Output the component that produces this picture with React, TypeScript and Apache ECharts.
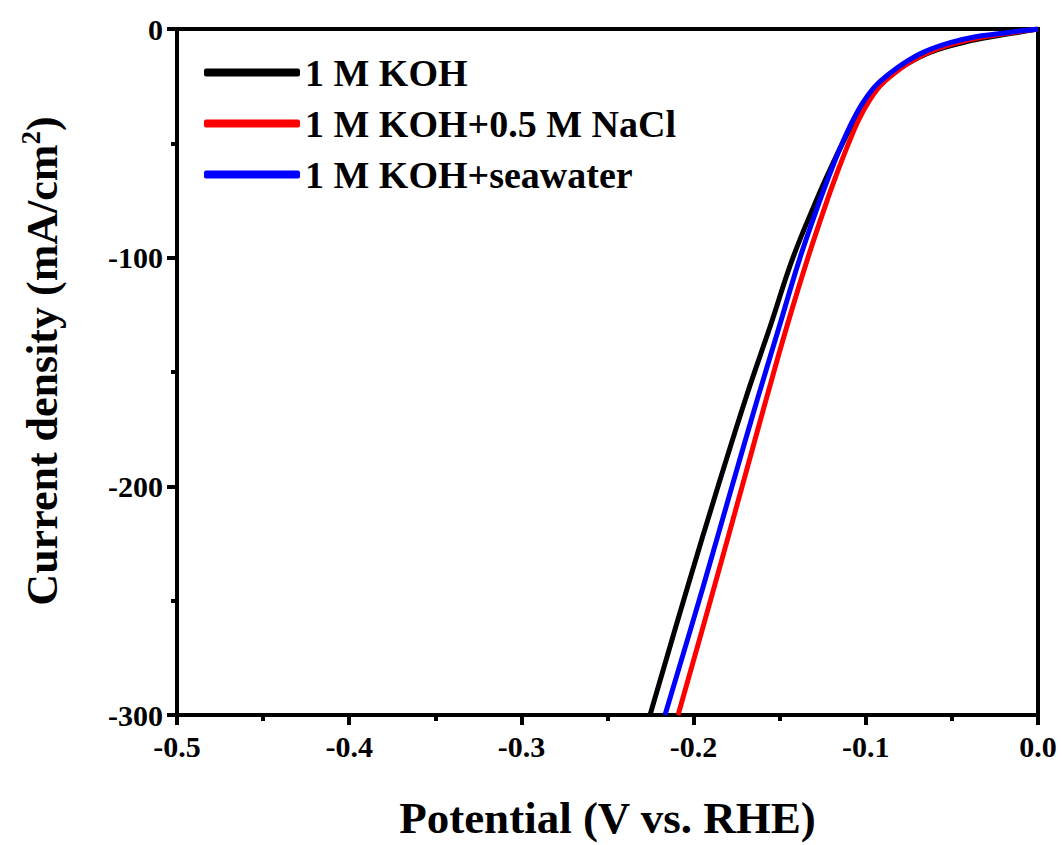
import React, { useEffect, useRef } from "react";
import * as echarts from "echarts";

// Current density levels (mA/cm2) at which potentials were read
const currentLevels = [0, -1, -2, -3.5, -6, -10, -15, -20, -25, -32, -40, -50, -61, -74, -100, -130, -161, -200, -244, -300];

// Potentials (V vs. RHE) for each electrolyte
const potentialKOH = [0, -0.008, -0.016, -0.028, -0.044, -0.062, -0.0755, -0.085, -0.0925, -0.1003, -0.1068, -0.1135, -0.1205, -0.1282, -0.1423, -0.1555, -0.1695, -0.1858, -0.2035, -0.2253];
const potentialNaCl = [0, -0.01, -0.019, -0.032, -0.047, -0.063, -0.0755, -0.0845, -0.0918, -0.0985, -0.1043, -0.11, -0.1157, -0.122, -0.1336, -0.1458, -0.1575, -0.1718, -0.188, -0.209];
const potentialSeawater = [0, -0.012, -0.022, -0.037, -0.051, -0.066, -0.078, -0.087, -0.0945, -0.1015, -0.1075, -0.1137, -0.1197, -0.1262, -0.1382, -0.1502, -0.1626, -0.1777, -0.1945, -0.2166];

const seriesNames = ["1 M KOH", "1 M KOH+0.5 M NaCl", "1 M KOH+seawater"];
const seriesColors = ["#000000", "#ff0000", "#0000ff"];

const FONT = "'Liberation Serif', 'Times New Roman', serif";

export default function App() {
  const ref = useRef<HTMLDivElement>(null);

  useEffect(() => {
    if (!ref.current) return;
    const chart = echarts.init(ref.current, undefined, { renderer: "svg" });
    const potentials = [potentialKOH, potentialNaCl, potentialSeawater];
    const series = potentials.map((arr, i) => ({
      name: seriesNames[i],
      type: "line",
      data: arr.map((v, k) => [v, currentLevels[k]]),
      showSymbol: false,
      symbol: "none",
      smooth: 0.4,
      lineStyle: { width: 5, color: seriesColors[i] },
      itemStyle: { color: seriesColors[i] },
      z: 2 + i,
    }));

    const tickStyle = { width: 4, color: "#000" };

    chart.setOption({
      animation: false,
      backgroundColor: "#ffffff",
      grid: {
        left: 177,
        right: 24,
        top: 29,
        bottom: 125,
        show: true,
        borderColor: "#000",
        borderWidth: 4,
        backgroundColor: "transparent",
      },
      legend: {
        data: seriesNames,
        orient: "vertical",
        left: 204,
        top: 52,
        padding: 0,
        icon: "roundRect",
        itemWidth: 96,
        itemHeight: 8,
        itemGap: 10,
        textStyle: {
          fontFamily: FONT,
          fontWeight: "bold",
          fontSize: 38,
          lineHeight: 41,
          color: "#000",
        },
      },
      xAxis: {
        type: "value",
        position: "bottom",
        min: -0.5,
        max: 0,
        interval: 0.1,
        name: "Potential (V vs. RHE)",
        nameLocation: "middle",
        nameGap: 80,
        nameTextStyle: { fontFamily: FONT, fontWeight: "bold", fontSize: 45, color: "#000" },
        axisLine: { show: true, onZero: false, lineStyle: { color: "#000", width: 4 } },
        axisTick: { show: true, inside: false, length: 10, lineStyle: tickStyle },
        minorTick: { show: true, splitNumber: 2, length: 6, lineStyle: tickStyle },
        splitLine: { show: false },
        axisLabel: {
          margin: 16,
          fontFamily: FONT,
          fontWeight: "bold",
          fontSize: 30,
          color: "#000",
          formatter: (v: number) => v.toFixed(1),
        },
      },
      yAxis: {
        type: "value",
        position: "left",
        min: -300,
        max: 0,
        interval: 100,
        name: "Current density (mA/cm{sup|2})",
        nameLocation: "middle",
        nameRotate: 90,
        nameGap: 110,
        nameTextStyle: {
          fontFamily: FONT,
          fontWeight: "bold",
          fontSize: 44,
          color: "#000",
          padding: [0, 0, 0, 22],
          rich: {
            sup: {
              fontFamily: FONT,
              fontWeight: "bold",
              fontSize: 27,
              color: "#000",
              verticalAlign: "bottom",
              padding: [0, 0, 23, 0],
            },
          },
        },
        axisLine: { show: true, onZero: false, lineStyle: { color: "#000", width: 4 } },
        axisTick: { show: true, inside: false, length: 10, lineStyle: tickStyle },
        minorTick: { show: true, splitNumber: 2, length: 6, lineStyle: tickStyle },
        splitLine: { show: false },
        axisLabel: {
          margin: 14,
          fontFamily: FONT,
          fontWeight: "bold",
          fontSize: 30,
          color: "#000",
        },
      },
      series,
    });
    return () => chart.dispose();
  }, []);

  return (
    <div
      ref={ref}
      style={{ position: "absolute", left: 0, top: 0, width: 1062, height: 845 }}
    />
  );
}
